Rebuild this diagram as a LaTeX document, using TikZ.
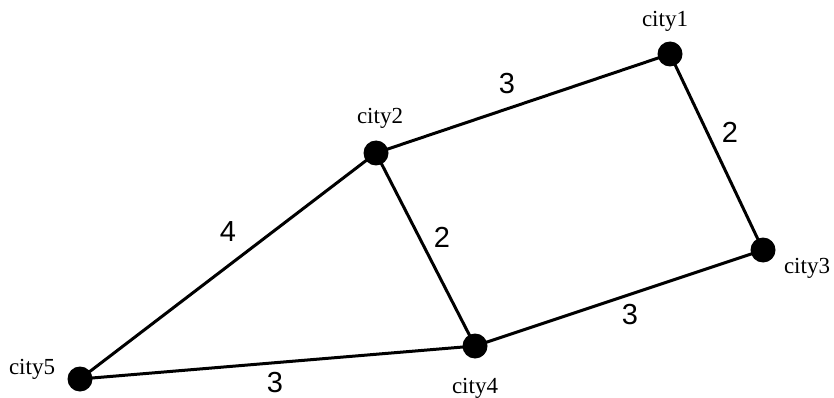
\documentclass[tikz,border=0pt]{standalone}
\usepackage{fontspec}
\setmainfont{Liberation Serif}
\newfontfamily\numfont{Liberation Sans}
\begin{document}
\begin{tikzpicture}[x=1pt,y=-1pt,
  city/.style={circle,fill=black,inner sep=0pt,minimum size=25pt},
  cname/.style={font=\fontsize{23}{23}\selectfont,inner sep=0pt},
  weight/.style={font=\numfont\fontsize{29}{29}\selectfont,inner sep=0pt},
  road/.style={line width=3pt}]
\useasboundingbox (0,0) rectangle (834,398);
\node[city] (c1) at (670,54) {};
\node[city] (c2) at (376,153) {};
\node[city] (c3) at (763,250) {};
\node[city] (c4) at (475,346) {};
\node[city] (c5) at (80,379) {};
\draw[road] (c2.center) -- (c1.center);
\draw[road] (c1.center) -- (c3.center);
\draw[road] (c5.center) -- (c2.center);
\draw[road] (c2.center) -- (c4.center);
\draw[road] (c4.center) -- (c3.center);
\draw[road] (c5.center) -- (c4.center);
\node[cname] (l1) at (665,21) {city1};
\node[cname] (l2) at (380,118) {city2};
\node[cname] (l3) at (807,268) {city3};
\node[cname] (l4) at (475,388) {city4};
\node[cname] (l5) at (32,369) {city5};
\node[weight] (w21) at (507,84) {3};
\node[weight] (w13) at (730,132) {2};
\node[weight] (w52) at (228,232) {4};
\node[weight] (w24) at (442,237) {2};
\node[weight] (w43) at (630,315) {3};
\node[weight] (w54) at (275,383) {3};
\end{tikzpicture}
\end{document}
